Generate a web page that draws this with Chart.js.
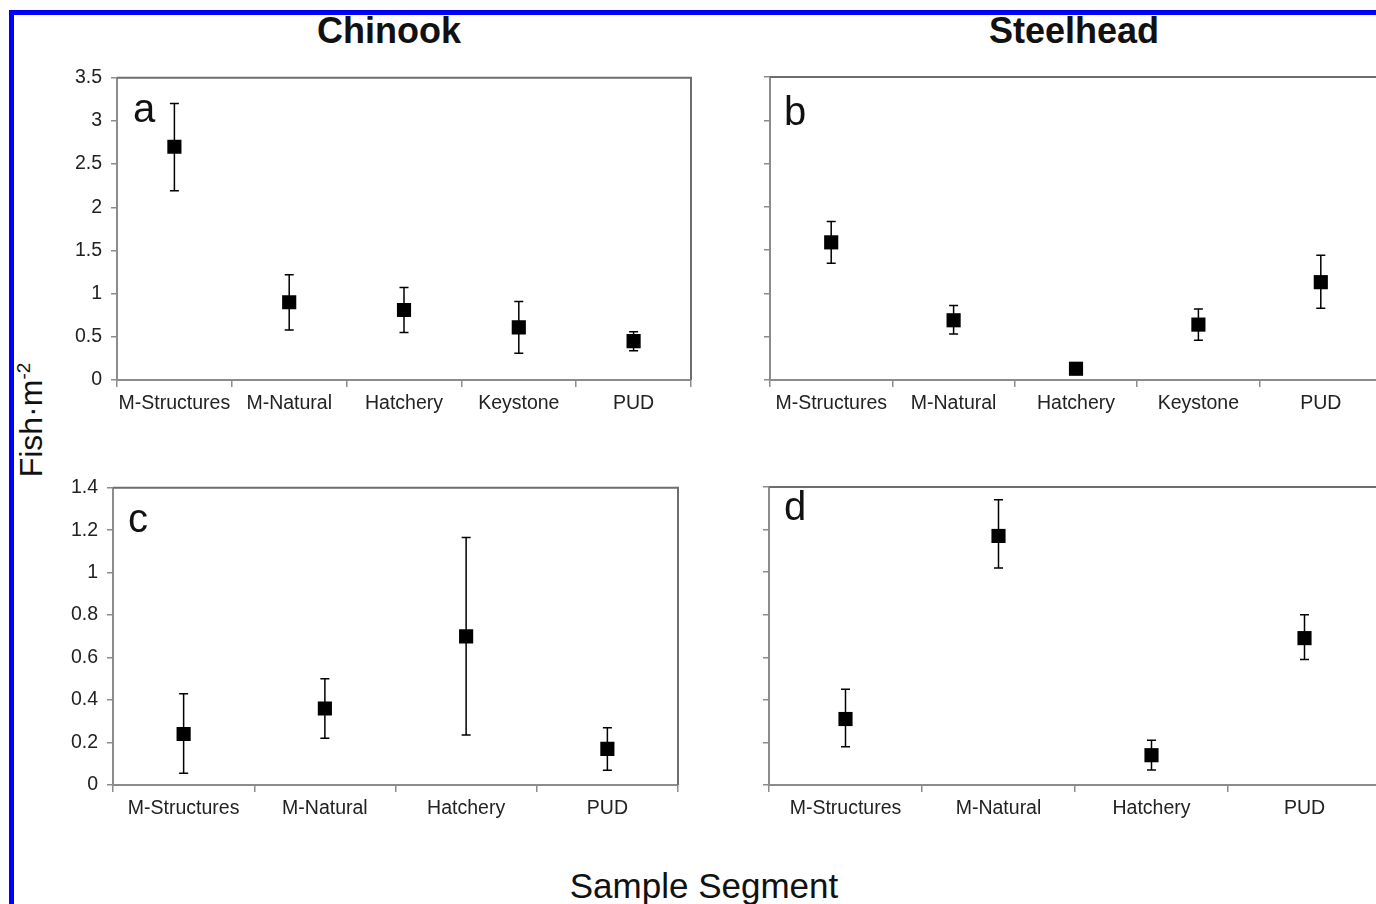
<!DOCTYPE html>
<html>
<head>
<meta charset="utf-8">
<script src="https://cdn.jsdelivr.net/npm/chart.js@4.4.1/dist/chart.umd.min.js"></script>
<style>
  html, body { margin: 0; padding: 0; background: #fff; overflow: hidden; }
  body { width: 1376px; height: 904px; position: relative; font-family: "Liberation Sans", Arial, sans-serif; }
  canvas { position: absolute; }
  .txt { position: absolute; transform: translate(-50%, -50%); white-space: nowrap; color: #111; }
  .title { font-size: 36px; font-weight: bold; }
  .letter { font-size: 40px; }
  .blue { position: absolute; background: #0000ff; }
</style>
</head>
<body>
<div class="blue" style="left:9px; top:10px; width:5px; height:900px;"></div>
<div class="blue" style="left:9px; top:10px; width:1370px; height:5px;"></div>

<div class="txt title" style="left:389px; top:31px;">Chinook</div>
<div class="txt title" style="left:1074px; top:31px;">Steelhead</div>
<div class="txt" style="left:31px; top:420px; font-size:32px; transform: translate(-50%, -50%) rotate(-90deg);">Fish·m<sup style="font-size:19px;">-2</sup></div>
<div class="txt" style="left:704px; top:886px; font-size:35px;">Sample Segment</div>

<canvas id="chartA" width="670" height="383" style="left:40px; top:57px;"></canvas>
<canvas id="chartB" width="680" height="380" style="left:720px; top:60px;"></canvas>
<canvas id="chartC" width="660" height="383" style="left:40px; top:467px;"></canvas>
<canvas id="chartD" width="680" height="380" style="left:720px; top:470px;"></canvas>

<div class="txt letter" style="left:144px; top:108px;">a</div>
<div class="txt letter" style="left:795px; top:111px;">b</div>
<div class="txt letter" style="left:138px; top:518px;">c</div>
<div class="txt letter" style="left:795px; top:506px;">d</div>

<script>
// categories
const segments5 = ['M-Structures', 'M-Natural', 'Hatchery', 'Keystone', 'PUD'];
const segments4 = ['M-Structures', 'M-Natural', 'Hatchery', 'PUD'];

// y tick labels
const ticksTop = ['0', '0.5', '1', '1.5', '2', '2.5', '3', '3.5'];
const ticksBottom = ['0', '0.2', '0.4', '0.6', '0.8', '1', '1.2', '1.4'];

// panel a - Chinook
const chinookA = [2.70, 0.90, 0.81, 0.61, 0.45];
const chinookALow = [2.19, 0.58, 0.55, 0.31, 0.34];
const chinookAHigh = [3.20, 1.22, 1.07, 0.91, 0.56];

// panel b - Steelhead
const steelheadB = [1.59, 0.69, 0.13, 0.64, 1.13];
const steelheadBLow = [1.35, 0.53, 0.13, 0.46, 0.83];
const steelheadBHigh = [1.83, 0.86, 0.13, 0.82, 1.44];

// panel c - Chinook
const chinookC = [0.24, 0.36, 0.70, 0.17];
const chinookCLow = [0.055, 0.22, 0.235, 0.07];
const chinookCHigh = [0.43, 0.50, 1.165, 0.27];

// panel d - Steelhead
const steelheadD = [0.31, 1.17, 0.14, 0.69];
const steelheadDLow = [0.18, 1.02, 0.07, 0.59];
const steelheadDHigh = [0.45, 1.34, 0.21, 0.80];

Chart.defaults.font.family = '"Liberation Sans", Arial, sans-serif';
Chart.defaults.color = '#222';

// error bars drawn under the square markers
const errorBars = {
    id: 'errorBars',
    beforeDatasetsDraw(chart) {
        const ctx = chart.ctx;
        const y = chart.scales.y;
        const ds = chart.data.datasets[0];
        const meta = chart.getDatasetMeta(0);
        ctx.save();
        ctx.strokeStyle = '#000';
        ctx.lineWidth = 1.5;
        meta.data.forEach((pt, i) => {
            const top = y.getPixelForValue(ds.high[i]);
            const bot = y.getPixelForValue(ds.low[i]);
            if (Math.abs(bot - top) < 1) return;
            ctx.beginPath();
            ctx.moveTo(pt.x, top); ctx.lineTo(pt.x, bot);
            ctx.moveTo(pt.x - 4.5, top); ctx.lineTo(pt.x + 4.5, top);
            ctx.moveTo(pt.x - 4.5, bot); ctx.lineTo(pt.x + 4.5, bot);
            ctx.stroke();
        });
        ctx.restore();
    }
};

// top and right edges of the plot frame
const frame = {
    id: 'frame',
    afterDraw(chart) {
        const a = chart.chartArea;
        const ctx = chart.ctx;
        ctx.save();
        ctx.strokeStyle = '#6e6e6e';
        ctx.lineWidth = 2;
        ctx.beginPath();
        ctx.moveTo(a.left, a.top);
        ctx.lineTo(a.right, a.top);
        ctx.lineTo(a.right, a.bottom);
        ctx.stroke();
        ctx.restore();
    }
};

function makePanel(id, labels, values, low, high, yTicks, yMax, step, showY, yWidth, xHeight, padTop, padRight) {
    const ctx = document.getElementById(id).getContext('2d');
    return new Chart(ctx, {
        type: 'line',
        data: {
            labels: labels,
            datasets: [{
                data: values,
                low: low,
                high: high,
                showLine: false,
                pointStyle: 'rect',
                pointRadius: 10,
                pointBackgroundColor: '#000',
                pointBorderColor: '#000',
                pointBorderWidth: 0
            }]
        },
        options: {
            responsive: false,
            animation: false,
            devicePixelRatio: 1,
            layout: { padding: { top: padTop, right: padRight, left: 0, bottom: 0 } },
            plugins: { legend: { display: false }, tooltip: { enabled: false } },
            scales: {
                x: {
                    type: 'category',
                    offset: true,
                    grid: { offset: true, drawOnChartArea: false, drawTicks: true, tickLength: 7, color: '#8c8c8c', lineWidth: 1.5 },
                    border: { display: true, color: '#8c8c8c', width: 2 },
                    ticks: { font: { size: 19.5 }, color: '#222', padding: 5, maxRotation: 0, autoSkip: false },
                    afterFit(scale) { scale.height = xHeight; }
                },
                y: {
                    min: 0,
                    max: yMax,
                    grid: { drawOnChartArea: false, drawTicks: true, tickLength: 6, color: '#8c8c8c', lineWidth: 1.5 },
                    border: { display: true, color: '#8c8c8c', width: 2 },
                    ticks: {
                        display: showY,
                        stepSize: step,
                        font: { size: 19.5 },
                        color: '#222',
                        padding: 9,
                        callback: (v, i) => yTicks[i]
                    },
                    afterFit(scale) { scale.width = yWidth; }
                }
            }
        },
        plugins: [errorBars, frame]
    });
}

makePanel('chartA', segments5, chinookA, chinookALow, chinookAHigh, ticksTop, 3.5, 0.5, true, 77, 60, 14, 19);
makePanel('chartB', segments5, steelheadB, steelheadBLow, steelheadBHigh, ticksTop, 3.5, 0.5, false, 50, 60, 17, 18);
makePanel('chartC', segments4, chinookC, chinookCLow, chinookCHigh, ticksBottom, 1.4, 0.2, true, 73, 65, 14, 22);
makePanel('chartD', segments4, steelheadD, steelheadDLow, steelheadDHigh, ticksBottom, 1.4, 0.2, false, 49, 65, 17, 19);
</script>
</body>
</html>
